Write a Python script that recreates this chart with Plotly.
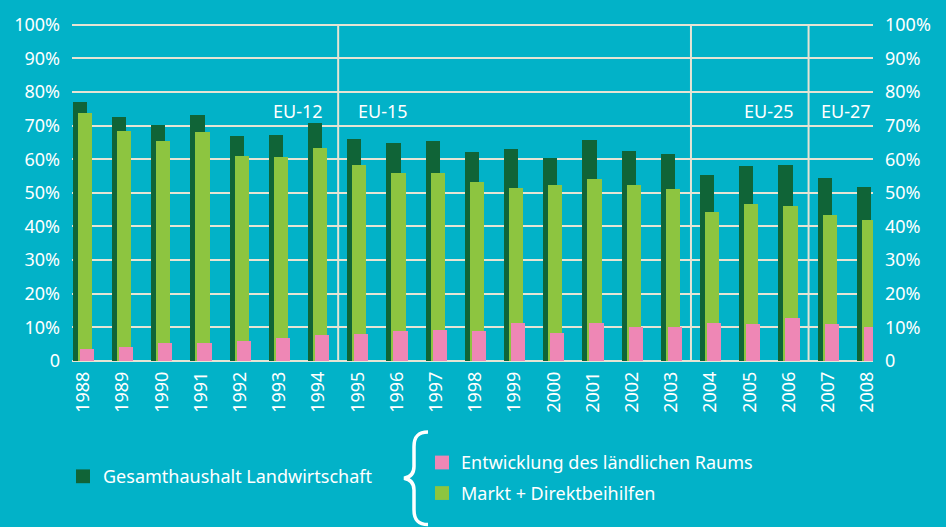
import plotly.graph_objects as go

years = list(range(1988, 2009))
gesamt = [77.0, 72.6, 70.3, 73.2, 66.8, 67.1, 70.9, 65.9, 64.7, 65.3, 62.1,
          63.0, 60.3, 65.6, 62.4, 61.5, 55.3, 58.0, 58.3, 54.5, 51.8]
markt = [73.8, 68.5, 65.3, 68.2, 60.9, 60.6, 63.2, 58.3, 55.9, 55.9, 53.3,
         51.5, 52.4, 54.2, 52.4, 51.2, 44.2, 46.6, 46.0, 43.3, 41.9]
laendlich = [3.5, 4.1, 5.3, 5.3, 5.9, 6.7, 7.6, 7.9, 8.8, 9.1, 8.8,
             11.4, 8.2, 11.4, 10.0, 10.2, 11.4, 11.1, 12.7, 11.1, 10.2]
y_ticks = [0, 10, 20, 30, 40, 50, 60, 70, 80, 90, 100]
y_ticktext = ["0", "10%", "20%", "30%", "40%", "50%", "60%", "70%", "80%", "90%", "100%"]
eras = [("EU-12", "EU-15", 1994), ("EU-25", "EU-27", 2006)]
separators = [1994, 2003, 2006]
legend_names = ["Gesamthaushalt Landwirtschaft", "Entwicklung des ländlichen Raums",
                "Markt + Direktbeihilfen"]

BG = "#02B2C8"
DARK = "#106437"
LIGHT = "#8DC540"
PINK = "#EE87B5"
GRID = "#E6E4D4"
FONT = "Noto Sans"

W, H = 946, 527
ML, MR, MT, MB = 72, 73, 18, 166
PW, PH = W - ML - MR, H - MT - MB
YMAX = 100.5

BW = 0.36
fig = go.Figure()
fig.add_trace(go.Bar(x=years, y=gesamt, name=legend_names[0], marker_color=DARK,
                     width=BW, offset=0.0, marker_line_width=0, showlegend=False))
fig.add_trace(go.Bar(x=years, y=markt, name=legend_names[2], marker_color=LIGHT,
                     width=BW, offset=0.13, marker_line_width=0, showlegend=False))
fig.add_trace(go.Bar(x=years, y=laendlich, name=legend_names[1], marker_color=PINK,
                     width=BW, offset=0.18, marker_line_width=0, showlegend=False))
# right axis carrier
fig.add_trace(go.Scatter(x=[years[0]], y=[0], yaxis="y2", mode="markers",
                         marker=dict(opacity=0), showlegend=False, hoverinfo="skip"))

unit = 39.2
x0 = 1987.98
x1 = x0 + PW / unit

def px(xp):
    return (xp - ML) / PW

def py(yp):
    return (MT + PH - yp) / PH

shapes = []
for s in separators:
    shapes.append(dict(type="line", xref="x", yref="y", x0=s + 0.77, x1=s + 0.77,
                       y0=0, y1=100, line=dict(color=GRID, width=2), layer="below"))

# legend squares
def sq(xa, ya, xb, yb, c):
    return dict(type="rect", xref="paper", yref="paper", x0=px(xa), x1=px(xb),
                y0=py(yb), y1=py(ya), fillcolor=c, line=dict(width=0))

shapes.append(sq(76, 471, 90, 485, DARK))
shapes.append(sq(435, 457, 449, 471, PINK))
shapes.append(sq(435, 488, 449, 502, LIGHT))

# brace
pts = [("M", [(428, 433)]),
       ("C", [(418, 433), (414, 438), (414, 448)]),
       ("L", [(414, 468)]),
       ("C", [(414, 476), (410, 479), (404, 480)]),
       ("C", [(410, 481), (414, 484), (414, 492)]),
       ("L", [(414, 512)]),
       ("C", [(414, 522), (418, 527), (428, 527)])]
path = ""
for cmd, ps in pts:
    path += cmd + " " + " ".join(f"{px(a):.5f},{py(b):.5f}" for a, b in ps) + " "
shapes.append(dict(type="path", xref="paper", yref="paper", path=path.strip(),
                   line=dict(color="white", width=3.5)))

annotations = []
for left, right, s in eras:
    annotations.append(dict(x=s + 0.77, y=74.2, xref="x", yref="y", text=left,
                            showarrow=False, xanchor="right", xshift=-13,
                            font=dict(family=FONT, size=18, color="white")))
    annotations.append(dict(x=s + 0.77, y=74.2, xref="x", yref="y", text=right,
                            showarrow=False, xanchor="left", xshift=18 if s == 1994 else 10,
                            font=dict(family=FONT, size=18, color="white")))

lf = dict(family=FONT, size=18, color="white")
annotations.append(dict(x=px(101), y=py(478), xref="paper", yref="paper",
                        text=legend_names[0], showarrow=False, xanchor="left",
                        yanchor="middle", font=lf))
annotations.append(dict(x=px(459), y=py(464), xref="paper", yref="paper",
                        text=legend_names[1], showarrow=False, xanchor="left",
                        yanchor="middle", font=lf))
annotations.append(dict(x=px(459), y=py(495), xref="paper", yref="paper",
                        text=legend_names[2], showarrow=False, xanchor="left",
                        yanchor="middle", font=lf))

tickfont = dict(family=FONT, size=18, color="white")
fig.update_layout(
    width=W, height=H,
    margin=dict(l=ML, r=MR, t=MT, b=MB, pad=0),
    paper_bgcolor=BG, plot_bgcolor=BG,
    barmode="overlay", bargap=0,
    shapes=shapes, annotations=annotations,
    xaxis=dict(range=[x0, x1], tickvals=[y + 0.27 for y in years],
               ticktext=[str(y) for y in years], tickangle=-90,
               tickfont=tickfont, showgrid=False, zeroline=False,
               showline=False, ticks="", ticklabelstandoff=6),
    yaxis=dict(range=[0, YMAX], tickvals=y_ticks, ticktext=y_ticktext,
               tickfont=dict(family=FONT, size=18, color="white"),
               showgrid=True, gridcolor=GRID, gridwidth=2,
               zeroline=True, zerolinecolor=GRID, zerolinewidth=2,
               showline=False, ticks="", ticklabelstandoff=11),
    yaxis2=dict(range=[0, YMAX], tickvals=y_ticks, ticktext=y_ticktext,
                overlaying="y", side="right", showgrid=False, zeroline=False,
                tickfont=dict(family=FONT, size=18, color="white"),
                showline=False, ticks="", ticklabelstandoff=11),
)

fig.write_html("out.html", config={"displayModeBar": False},
               post_script="document.body.style.margin='0';document.body.style.background='" + BG + "';")
